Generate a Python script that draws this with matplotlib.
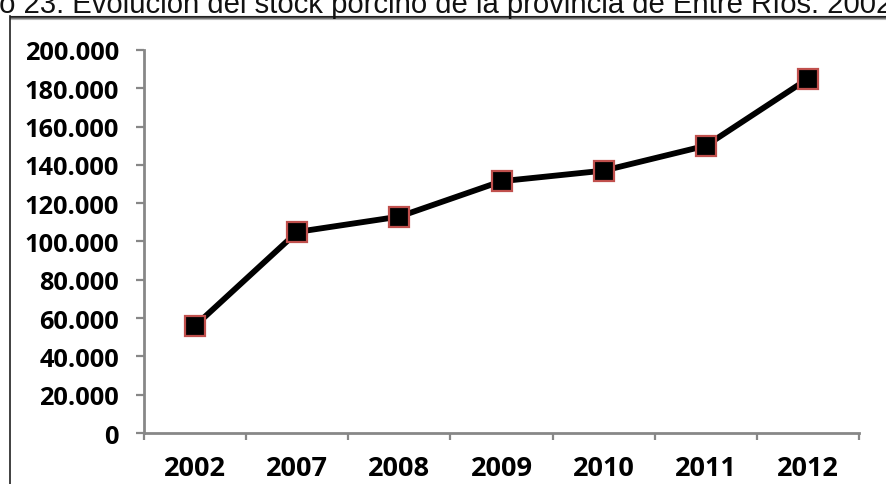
import matplotlib
matplotlib.use("Agg")
import matplotlib.pyplot as plt
from matplotlib.lines import Line2D
from matplotlib.ticker import FuncFormatter, FixedLocator

years = ["2002", "2007", "2008", "2009", "2010", "2011", "2012"]
stock = [56000, 105000, 113000, 131500, 137000, 150000, 185000]
y_ticks = list(range(0, 200001, 20000))
title = "Gráfico 23: Evolución del stock porcino de la provincia de Entre Ríos. 2002-2012"

W, H = 886, 485
fig = plt.figure(figsize=(W / 100, H / 100), dpi=100)

# frame around the chart (with a soft shadow under the top edge)
def px(x, y):
    return x / W, 1 - y / H

for dy, col in [(0, "#202020"), (1, "#404040"), (2, "#777777"), (3, "#b5b5b5")]:
    fig.add_artist(Line2D([px(10, 0)[0], 1.0], [px(0, 17 + dy)[1]] * 2,
                          color=col, lw=0.8))
fig.add_artist(Line2D([px(10, 0)[0]] * 2, [px(0, 17)[1], 0], color="#202020", lw=1.2))

# title runs past both edges; shift it so "o 23:" starts at the left border
tfont = dict(fontsize=21.1, family="Liberation Sans")
renderer = fig.canvas.get_renderer()
probe = fig.text(0, 0, "Gráfic", **tfont)
lead = probe.get_window_extent(renderer).width
probe.remove()
fig.text(-(lead + 1) / W, 1 - 13 / H, title, ha="left", va="baseline",
         color="#111111", **tfont)

ax = fig.add_axes([144 / W, 1 - 434 / H, (859 - 144) / W, (434 - 51) / H])
x = range(len(years))
ax.plot(x, stock, color="black", lw=4.2, marker="s", markersize=15,
        markerfacecolor="black", markeredgecolor="#c0504d", markeredgewidth=1.6,
        solid_joinstyle="miter", zorder=3)

ax.set_xlim(-0.5, len(years) - 0.5)
ax.set_ylim(0, 200000)
for s in ["top", "right"]:
    ax.spines[s].set_visible(False)
for s in ["left", "bottom"]:
    ax.spines[s].set_color("#878787")
    ax.spines[s].set_linewidth(2.0)

ax.yaxis.set_major_locator(FixedLocator(y_ticks))
ax.yaxis.set_major_formatter(FuncFormatter(lambda v, p: f"{int(v):,}".replace(",", ".")))
ax.tick_params(axis="y", direction="out", length=6, width=1.6, color="#878787",
               pad=12, labelsize=18.3)
ax.set_xticks(list(x))
ax.set_xticklabels(years)
ax.set_xticks([i - 0.5 for i in range(len(years) + 1)], minor=True)
ax.tick_params(axis="x", which="major", length=0, pad=16, labelsize=19.5)
ax.tick_params(axis="x", which="minor", direction="out", length=5, width=1.6,
               color="#878787")
for lab in ax.get_xticklabels() + ax.get_yticklabels():
    lab.set_fontfamily("Open Sans")
    lab.set_fontweight("bold")

fig.savefig("out.png", dpi=100)
